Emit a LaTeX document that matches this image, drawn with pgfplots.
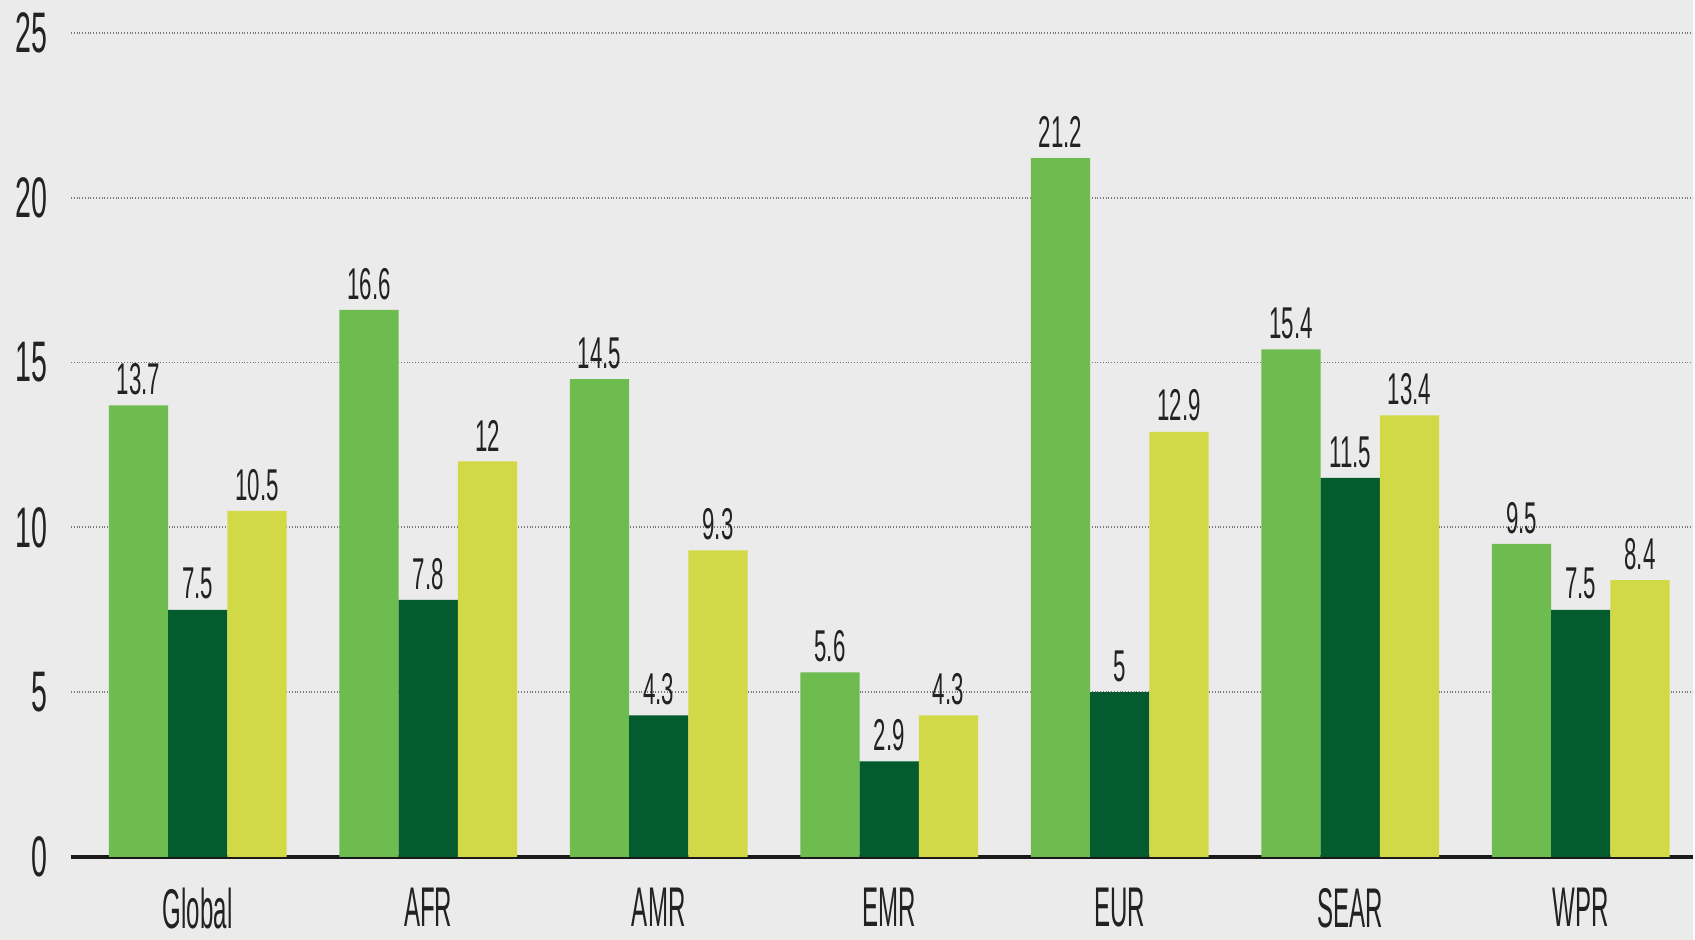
\documentclass[border=0pt]{standalone}
\usepackage{pgfplots}
\pgfplotsset{compat=1.18}
\usepackage{pgfplotstable}
\usepackage{fontspec}
\setmainfont{Liberation Sans}
\newfontfamily\numfont{Liberation Sans}[FakeStretch=0.5]
\newfontfamily\labfont{Liberation Sans}[FakeStretch=0.43]
\usetikzlibrary{backgrounds,calc}
\definecolor{bgc}{HTML}{EBEBEB}
\definecolor{cA}{HTML}{6EBB50}
\definecolor{cB}{HTML}{035B2E}
\definecolor{cC}{HTML}{D1DA46}
\definecolor{txt}{HTML}{222222}
\definecolor{gridc}{HTML}{7A7A7A}

\pgfplotstableread{
x y lab
0 13.7 13.7
1 16.6 16.6
2 14.5 14.5
3 5.6 5.6
4 21.2 21.2
5 15.4 15.4
6 9.5 9.5
}\tA
\pgfplotstableread{
x y lab
0 7.5 7.5
1 7.8 7.8
2 4.3 4.3
3 2.9 2.9
4 5 5
5 11.5 11.5
6 7.5 7.5
}\tB
\pgfplotstableread{
x y lab
0 10.5 10.5
1 12 12
2 9.3 9.3
3 4.3 4.3
4 12.9 12.9
5 13.4 13.4
6 8.4 8.4
}\tC

\begin{document}
\begin{tikzpicture}
\begin{axis}[
  name=ax,
  scale only axis,
  width=812pt, height=412.5pt,
  xmin=-0.55, xmax=6.487, ymin=0, ymax=25,
  enlargelimits=false,
  axis x line*=bottom, axis y line*=left,
  x axis line style={line width=2pt, color=black!90},
  y axis line style={draw=none},
  major tick length=0pt,
  xtick={0,1,2,3,4,5,6},
  xticklabels={Global,AFR,AMR,EMR,EUR,SEAR,WPR},
  ytick={0,5,10,15,20,25},
  /pgf/number format/assume math mode=true,
  xticklabel style={font=\labfont\fontsize{28}{31}\selectfont, text=txt, inner sep=0pt, anchor=north, yshift=-15.5pt},
  yticklabel style={font=\numfont\fontsize{28.6}{31}\selectfont, text=txt, inner sep=0pt, anchor=east, xshift=-11.5pt},
  ymajorgrids,
  grid style={densely dotted, color=gridc, line width=0.9pt},
  ybar, bar width=0.257,
  every node near coord/.append style={font=\numfont\fontsize{22.3}{24}\selectfont, text=txt, inner sep=0pt, anchor=south, yshift=5pt},
]
\addplot[draw=none, fill=cA, bar shift=-0.257, nodes near coords, point meta=explicit symbolic] table[x=x, y=y, meta=lab] {\tA};
\addplot[draw=none, fill=cB, bar shift=0, nodes near coords, point meta=explicit symbolic] table[x=x, y=y, meta=lab] {\tB};
\addplot[draw=none, fill=cC, bar shift=0.257, nodes near coords, point meta=explicit symbolic] table[x=x, y=y, meta=lab] {\tC};
\end{axis}
\begin{scope}[on background layer]
\fill[bgc] ($(ax.south west)+(-35.5pt,-41.5pt)$) rectangle ($(ax.north east)+(0pt,16.5pt)$);
\end{scope}
\end{tikzpicture}
\end{document}
